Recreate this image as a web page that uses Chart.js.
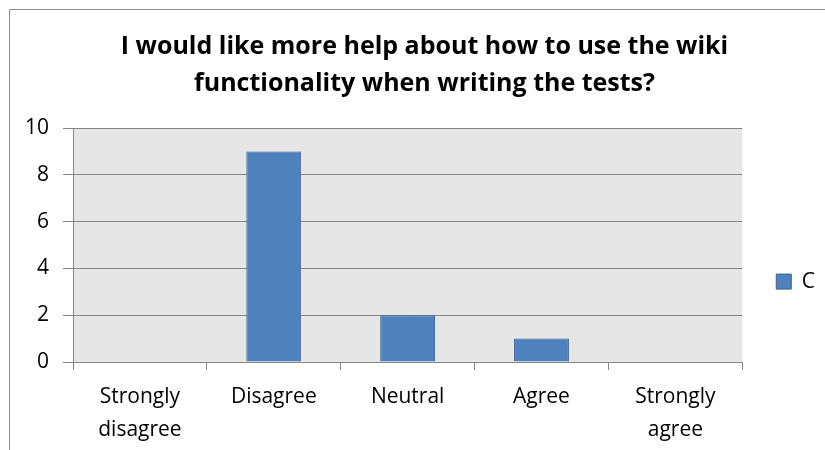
<!DOCTYPE html>
<html>
<head>
<meta charset="utf-8">
<script src="https://cdn.jsdelivr.net/npm/chart.js@4"></script>
<style>
  html, body { margin: 0; padding: 0; background: #ffffff; }
  #wrap { position: relative; width: 825px; height: 450px; overflow: hidden; }
</style>
</head>
<body>
<div id="wrap"><canvas id="chart" width="825" height="450"></canvas></div>
<script>
// Survey answers for the question, count of respondents per choice
const categories = [['Strongly', 'disagree'], 'Disagree', 'Neutral', 'Agree', ['Strongly', 'agree']];
const seriesName = 'C';
const seriesValues = [0, 9, 2, 1, 0];
const titleLines = ['I would like more help about how to use the wiki', 'functionality when writing the tests?'];
const yTicks = [0, 2, 4, 6, 8, 10];

const FONT = "'Open Sans', 'DejaVu Sans', sans-serif";

// Gray plot background and the outer frame of the chart object
const backdrop = {
  id: 'backdrop',
  beforeDraw(chart) {
    const { ctx, chartArea: a } = chart;
    ctx.save();
    ctx.fillStyle = '#ffffff';
    ctx.fillRect(0, 0, chart.width, chart.height);
    ctx.strokeStyle = '#8c8c8c';
    ctx.lineWidth = 1;
    ctx.beginPath();
    ctx.moveTo(9.5, chart.height);
    ctx.lineTo(9.5, 9.5);
    ctx.lineTo(chart.width, 9.5);
    ctx.stroke();
    ctx.fillStyle = '#e6e6e6';
    ctx.fillRect(a.left, a.top, a.right - a.left, a.bottom - a.top);
    ctx.restore();
  }
};

new Chart(document.getElementById('chart'), {
  type: 'bar',
  data: {
    labels: categories,
    datasets: [{
      label: seriesName,
      data: seriesValues,
      backgroundColor: '#4f81bd',
      borderColor: '#3a6190',
      borderWidth: 1,
      barPercentage: 0.41,
      categoryPercentage: 1.0
    }]
  },
  options: {
    responsive: false,
    animation: false,
    devicePixelRatio: 1,
    layout: { padding: { left: 24, right: 0, top: 0, bottom: 0 } },
    plugins: {
      tooltip: { enabled: false },
      title: {
        display: true,
        text: titleLines,
        color: '#000000',
        font: { family: FONT, size: 25, weight: 'bold', lineHeight: 1.48 },
        padding: { top: 28, bottom: 26 }
      },
      legend: {
        position: 'right',
        align: 'center',
        title: { display: true, text: ' ', padding: { top: 0, bottom: 88 }, font: { family: FONT, size: 21 } },
        labels: {
          color: '#000000',
          font: { family: FONT, size: 21 },
          boxWidth: 15,
          boxHeight: 15,
          padding: 34
        }
      }
    },
    scales: {
      x: {
        offset: true,
        grid: {
          offset: true,
          drawOnChartArea: false,
          drawTicks: true,
          tickLength: 8,
          color: '#868686'
        },
        border: { display: true, color: '#868686', width: 1 },
        ticks: {
          color: '#000000',
          font: { family: FONT, size: 21, lineHeight: 1.6 },
          padding: 10,
          maxRotation: 0,
          autoSkip: false
        },
        afterFit(scale) { scale.height = 88; }
      },
      y: {
        min: 0,
        max: 10,
        afterBuildTicks(scale) { scale.ticks = yTicks.map(v => ({ value: v })); },
        grid: {
          color: '#868686',
          drawTicks: true,
          tickLength: 10
        },
        border: { display: true, color: '#868686', width: 1 },
        ticks: {
          color: '#000000',
          font: { family: FONT, size: 21 },
          padding: 14
        },
        afterFit(scale) { scale.width = 49; }
      }
    }
  },
  plugins: [backdrop]
});
</script>
</body>
</html>
